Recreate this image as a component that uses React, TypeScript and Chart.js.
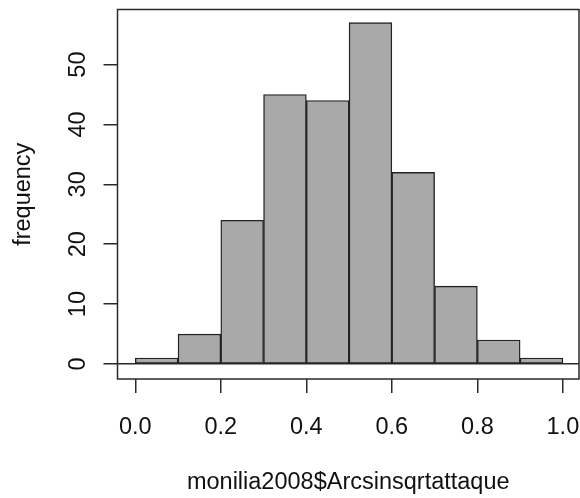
import { useEffect, useRef } from "react";
import { Chart, registerables } from "chart.js";

Chart.register(...registerables);

// Histogram bins and counts
const binStarts = [0.0, 0.1, 0.2, 0.3, 0.4, 0.5, 0.6, 0.7, 0.8, 0.9];
const binEnds = [0.1, 0.2, 0.3, 0.4, 0.5, 0.6, 0.7, 0.8, 0.9, 1.0];
const counts = [1, 5, 24, 45, 44, 57, 32, 13, 4, 1];

// Axis ticks
const xTickValues = [0.0, 0.2, 0.4, 0.6, 0.8, 1.0];
const yTickValues = [0, 10, 20, 30, 40, 50];

const xTitle = "monilia2008$Arcsinsqrtattaque";
const yTitle = "frequency";

const FONT_FAMILY = "'Liberation Sans', Arial, Helvetica, sans-serif";

const framePlugin = {
  id: "frameBox",
  afterDraw(chart: any) {
    const { ctx, chartArea } = chart;
    const { left, top, right, bottom } = chartArea;
    ctx.save();
    ctx.strokeStyle = "#2a2a2a";
    ctx.lineWidth = 1.5;
    ctx.strokeRect(left, top, right - left, bottom - top);
    ctx.restore();
  },
};

function zeroPadding(s: any) {
  s.paddingTop = 0;
  s.paddingBottom = 0;
  s.paddingLeft = 0;
  s.paddingRight = 0;
}

export default function App() {
  const canvasRef = useRef<HTMLCanvasElement | null>(null);

  useEffect(() => {
    const canvas = canvasRef.current;
    if (!canvas) return;
    const font = { family: FONT_FAMILY, size: 23.5 };
    const data = counts.map((c, i) => ({ x: (binStarts[i] + binEnds[i]) / 2, y: c }));
    const chart = new Chart(canvas, {
      type: "bar",
      data: {
        datasets: [
          {
            data,
            backgroundColor: "#A9A9A9",
            borderColor: "#222",
            borderWidth: 1.4,
            borderSkipped: false,
            barPercentage: 1,
            categoryPercentage: 1,
          } as any,
        ],
      },
      options: {
        animation: false,
        responsive: false,
        devicePixelRatio: 1,
        layout: { padding: { top: 9.5, right: 1, left: 0, bottom: 0 } },
        plugins: {
          legend: { display: false },
          tooltip: { enabled: false },
        },
        scales: {
          x: {
            type: "linear",
            min: -0.0416,
            max: 1.0377,
            offset: false,
            afterBuildTicks: (s: any) => {
              s.ticks = xTickValues.map((v) => ({ value: v }));
            },
            afterFit: (s: any) => {
              s.height = 119;
              zeroPadding(s);
            },
            grid: {
              offset: false,
              drawOnChartArea: false,
              drawTicks: true,
              tickLength: 14,
              color: "#2a2a2a",
              lineWidth: 1.5,
            },
            border: { display: false },
            ticks: {
              autoSkip: false,
              maxRotation: 0,
              minRotation: 0,
              padding: 20,
              font,
              color: "#111",
              callback: (v: any) => Number(v).toFixed(1),
            },
            title: {
              display: true,
              text: xTitle,
              font,
              color: "#111",
              padding: { top: 0, bottom: 1.2 },
            },
          },
          y: {
            type: "linear",
            min: -2.505,
            max: 59.2,
            afterBuildTicks: (s: any) => {
              s.ticks = yTickValues.map((v) => ({ value: v }));
            },
            afterFit: (s: any) => {
              s.width = 117.5;
              zeroPadding(s);
            },
            grid: {
              drawOnChartArea: true,
              drawTicks: true,
              tickLength: 14,
              color: (ctx: any) =>
                ctx.tick && ctx.tick.value === 0 ? "#2a2a2a" : "rgba(0,0,0,0)",
              tickColor: "#2a2a2a",
              lineWidth: 1.5,
            },
            border: { display: false },
            ticks: {
              autoSkip: false,
              minRotation: 90,
              maxRotation: 90,
              crossAlign: "center",
              padding: 12,
              font,
              color: "#111",
              callback: (v: any) => String(v),
            },
            title: {
              display: true,
              text: yTitle,
              font,
              color: "#111",
              padding: { top: 9, bottom: 0 },
            },
          },
        },
      } as any,
      plugins: [framePlugin],
    });
    return () => chart.destroy();
  }, []);

  return (
    <div style={{ position: "fixed", left: 0, top: 0, width: 580, height: 498, background: "#fff" }}>
      <canvas ref={canvasRef} width={580} height={498} style={{ display: "block" }} />
    </div>
  );
}
